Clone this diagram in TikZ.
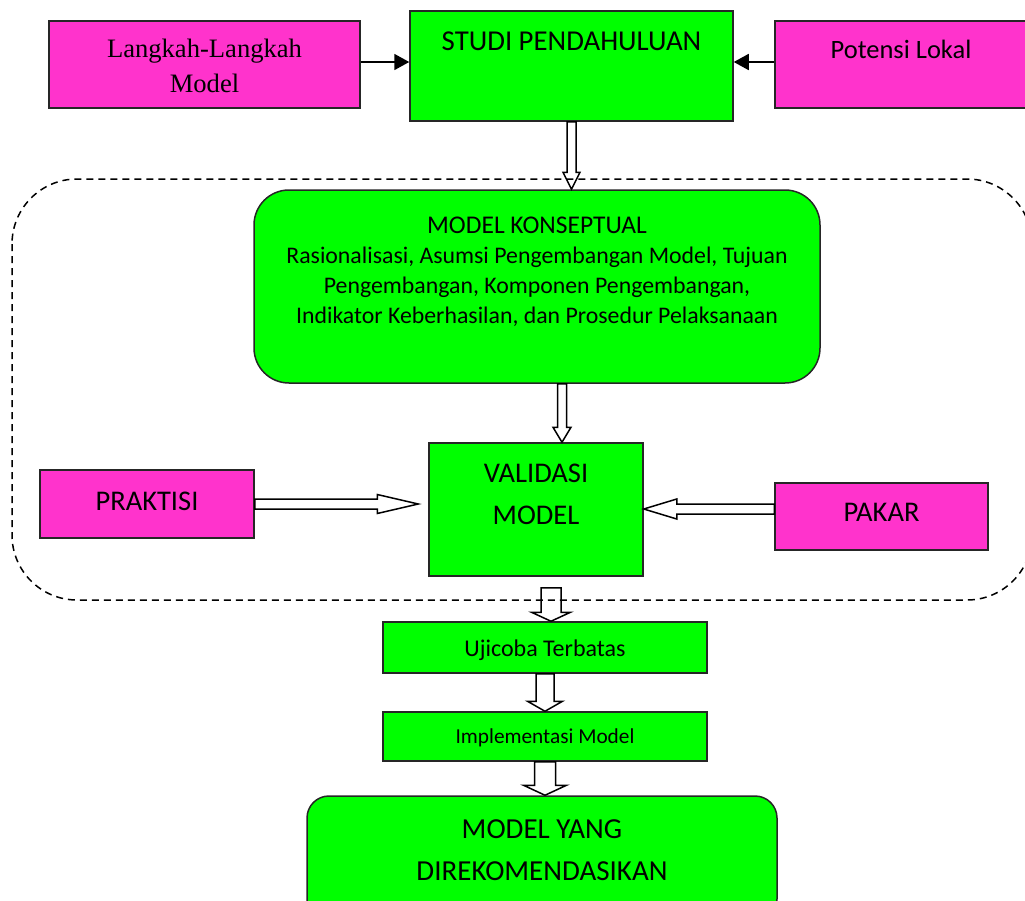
\documentclass[tikz,border=0pt]{standalone}
\usepackage{fontspec}
\setmainfont{Carlito}
\newfontfamily\timesfont{Liberation Serif}
\usetikzlibrary{arrows.meta, calc, positioning}

\definecolor{boxgreen}{RGB}{0,255,0}
\definecolor{boxpink}{RGB}{255,51,204}

% box text: width, height, first baseline, text
\newcommand{\boxtext}[4]{\parbox[c][#2][t]{#1}{\centering\rule{0pt}{#3}#4}}
% hollow arrow: half shaft, half head, head length, from, to
\newcommand{\hollowarrow}[5]{%
  \draw[hollow] let \p1=(#4), \p2=(#5),
      \n1={atan2(\y2-\y1,\x2-\x1)}, \n2={veclen(\x2-\x1,\y2-\y1)-#3pt} in
    ($(\p1)+(\n1+90:#1pt)$) -- ($(\p1)+(\n1:\n2)+(\n1+90:#1pt)$)
    -- ($(\p1)+(\n1:\n2)+(\n1+90:#2pt)$) -- (\p2)
    -- ($(\p1)+(\n1:\n2)+(\n1-90:#2pt)$) -- ($(\p1)+(\n1:\n2)+(\n1-90:#1pt)$)
    -- ($(\p1)+(\n1-90:#1pt)$) -- cycle;}

\tikzset{
  greenbox/.style={draw=black!85, fill=boxgreen, line width=1.5pt, inner sep=0pt},
  pinkbox/.style={greenbox, fill=boxpink},
  solidarrow/.style={line width=1.8pt, -{Triangle[length=15pt,width=16pt]}},
  hollow/.style={draw=black, fill=white, line width=1.5pt, line join=miter},
  frame/.style={line width=1.5pt, dash pattern=on 7pt off 5pt, rounded corners=65pt}
}

\begin{document}
\begin{tikzpicture}[x=1pt, y=-1pt]
\useasboundingbox (0,0) rectangle (1025,900);

\node[pinkbox] (langkah) at (204.5,64.5) {\boxtext{311pt}{87pt}{36pt}{\timesfont\fontsize{26.6}{35}\selectfont Langkah-Langkah\\Model}};
\node[greenbox] (studi) at (571.5,66) {\boxtext{323pt}{110pt}{39pt}{\fontsize{28.8}{42}\selectfont STUDI PENDAHULUAN}};
\node[pinkbox] (potensi) at (901,64.5) {\boxtext{252pt}{87pt}{37.5pt}{\fontsize{26.5}{32}\selectfont Potensi Lokal}};

\node[greenbox, rounded corners=35pt] (konsep) at (537,286.5) {\boxtext{566pt}{193pt}{43pt}{\fontsize{25.5}{30}\selectfont MODEL KONSEPTUAL\\
  \fontsize{23.8}{30}\selectfont Rasionalisasi, Asumsi Pengembangan Model, Tujuan\\
  Pengembangan, Komponen Pengembangan,\\
  Indikator Keberhasilan, dan Prosedur Pelaksanaan}};

\node[greenbox] (valid) at (536,509.5) {\boxtext{214pt}{133pt}{39pt}{\fontsize{28.5}{42}\selectfont VALIDASI\\MODEL}};
\node[pinkbox] (praktisi) at (147,504) {\boxtext{214pt}{68pt}{40pt}{\fontsize{28.5}{34}\selectfont PRAKTISI}};
\node[pinkbox] (pakar) at (881.5,516.5) {\boxtext{213pt}{67pt}{38.7pt}{\fontsize{28.5}{34}\selectfont PAKAR}};

\node[greenbox] (uji) at (545,647.5) {\boxtext{324pt}{51pt}{34pt}{\fontsize{24}{29}\selectfont Ujicoba Terbatas}};
\node[greenbox] (impl) at (545,736.5) {\boxtext{324pt}{49pt}{31pt}{\fontsize{21.3}{26}\selectfont Implementasi Model}};
\node[greenbox, rounded corners=22pt] (rekom) at (542,858.5) {\boxtext{470pt}{125pt}{42pt}{\fontsize{29}{42}\selectfont MODEL YANG\\DIREKOMENDASIKAN}};

% arrows
\coordinate (l1) at ([yshift=2.5pt]langkah.east);
\coordinate (p0) at ([yshift=2.5pt]potensi.west);
\draw[solidarrow] (l1) -- (l1 -| studi.west);
\draw[solidarrow] (p0) -- (p0 -| studi.east);

\coordinate (k1) at ([xshift=25pt]konsep.south);
\coordinate (p1) at ([yshift=7.5pt]pakar.west);
\coordinate (v1) at ([xshift=15pt,yshift=-11pt]valid.south);
\hollowarrow{4.5}{8.5}{17}{studi.south}{studi.south |- konsep.north}
\hollowarrow{4.5}{9}{15}{k1}{k1 |- valid.north}
\hollowarrow{5}{9.5}{41}{praktisi.east}{[xshift=-10pt]valid.west |- praktisi.east}
\hollowarrow{5}{10}{33}{p1}{valid.east |- p1}
\hollowarrow{10}{19.5}{9}{v1}{v1 |- uji.north}
\hollowarrow{9}{17.5}{10}{uji.south}{impl.north}
\hollowarrow{10.5}{21.5}{10}{impl.south}{impl.south |- rekom.north}

\draw[frame] (12,179) rectangle (1032,600);
\end{tikzpicture}
\end{document}
